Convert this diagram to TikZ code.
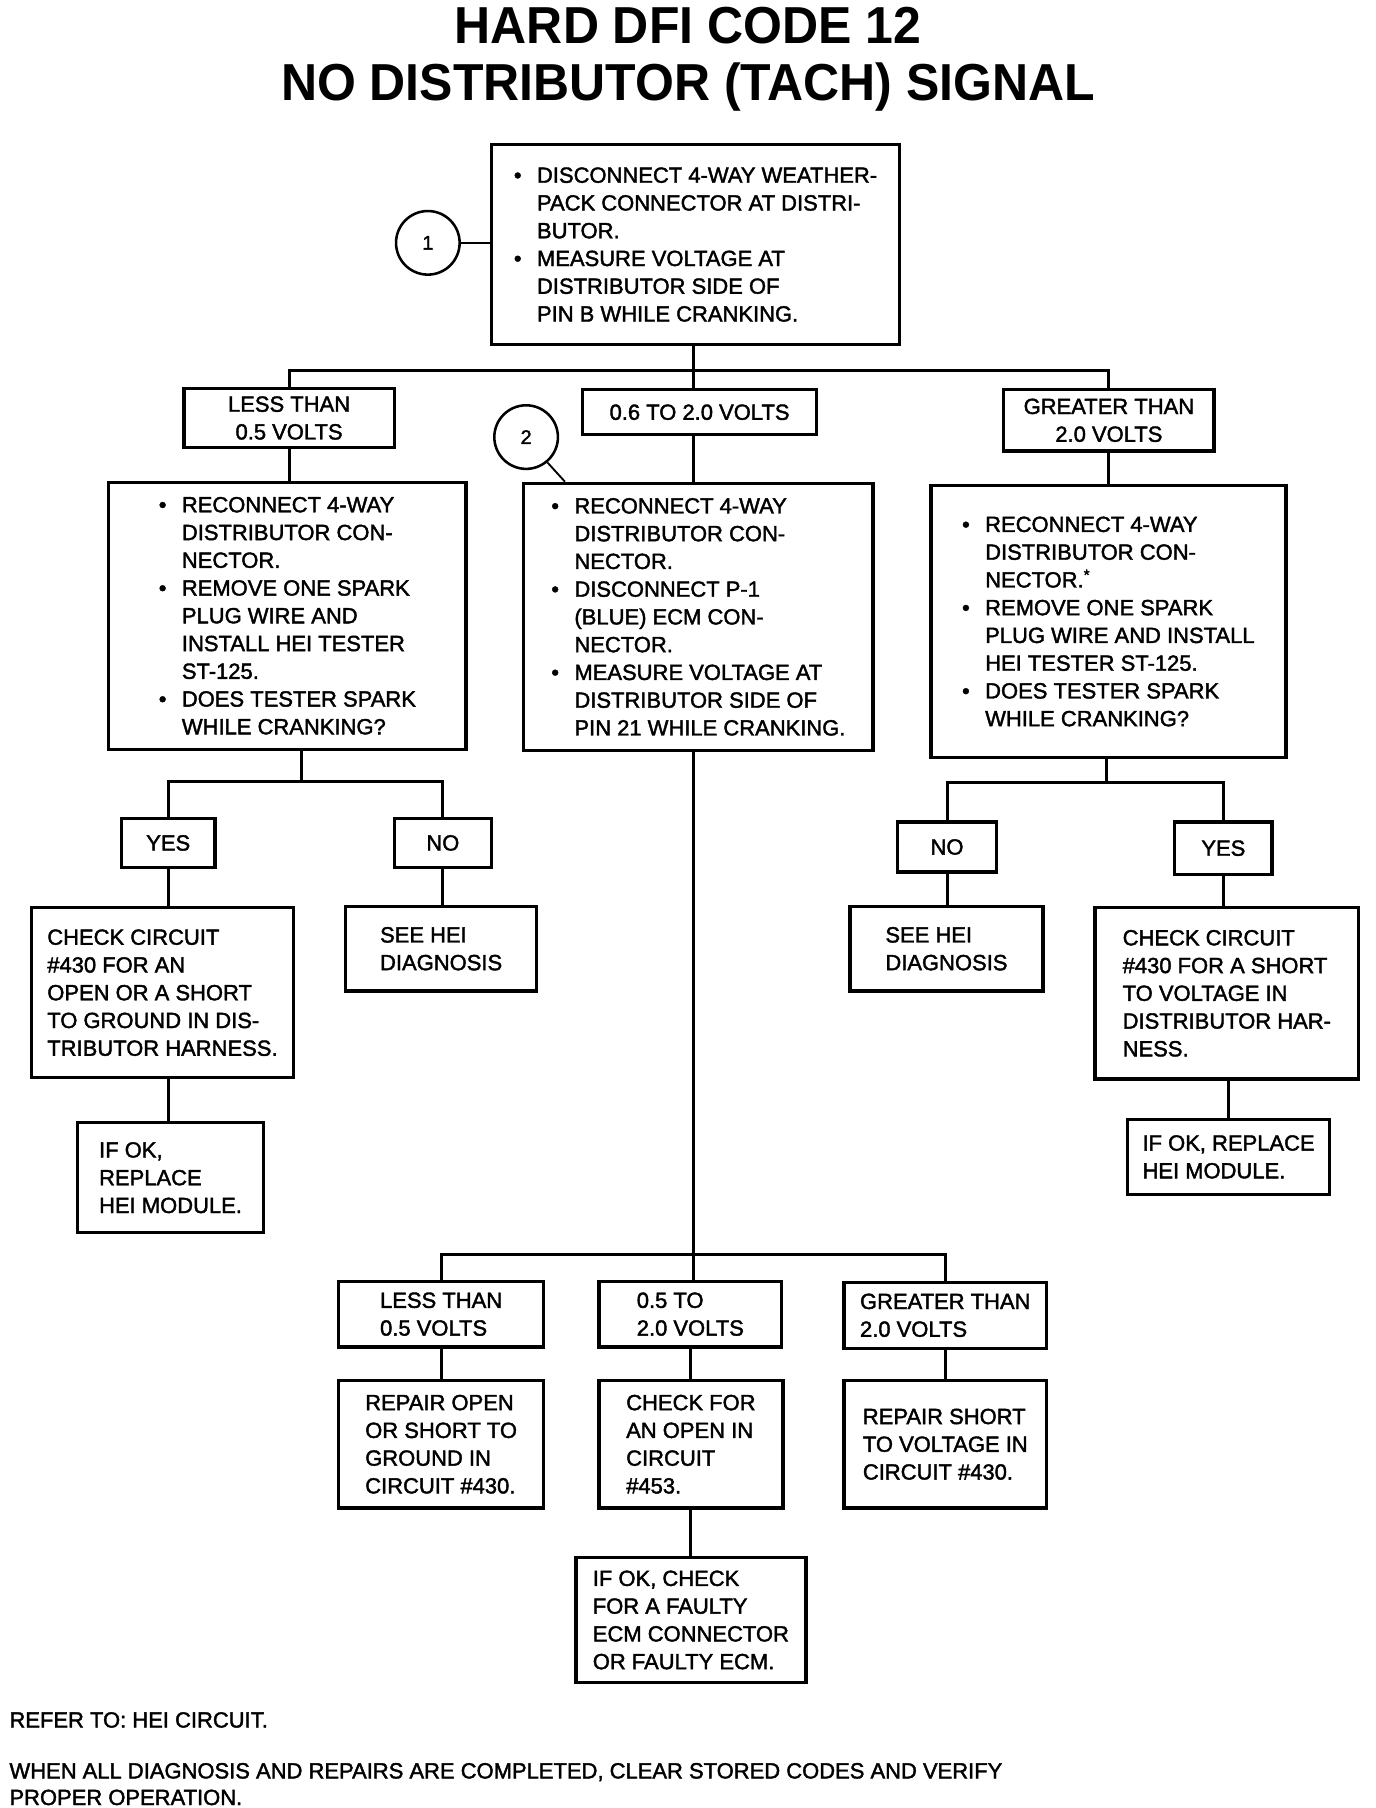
\documentclass[tikz,border=0pt]{standalone}
\usepackage{fontspec}
\newfontfamily\boxfont{Liberation Sans}[FakeBold=1.8]
\newfontfamily\titlefont{Liberation Sans Bold}[FakeStretch=0.96]
\newcommand{\bulletmark}{\makebox[20pt][l]{\textbullet}}
\newcommand{\bulletgap}{\hspace*{20pt}}
\tikzset{
  stepbox/.style={draw, rectangle, line width=2.9pt, align=left, inner sep=0pt,
    font=\boxfont\fontsize{19}{24}\selectfont},
  ansbox/.style={stepbox, align=center},
  link/.style={line width=2.6pt},
  tag/.style={draw, circle, line width=2.2pt, minimum size=55pt, inner sep=0pt,
    font=\boxfont\fontsize{17}{17}\selectfont},
  note/.style={anchor=base west, inner sep=0pt, font=\boxfont\fontsize{19}{24}\selectfont}
}
\begin{document}
\begin{tikzpicture}[x=1pt, y=-1pt]
        \useasboundingbox (0,0) rectangle (1190,1563.6);
        % Title
        \node[anchor=base, inner sep=0pt, font=\titlefont\fontsize{45}{48}\selectfont] (T1) at (595,38) {HARD DFI CODE 12};
        \node[anchor=base, inner sep=0pt, font=\titlefont\fontsize{45}{48}\selectfont] (T2) at (595,87) {NO DISTRIBUTOR (TACH) SIGNAL};

        % Steps
        \node[stepbox, minimum width=353, minimum height=173] (S) at (601.5,211.5) {\bulletmark DISCONNECT 4-WAY WEATHER-\\\bulletgap PACK CONNECTOR AT DISTRI-\\\bulletgap BUTOR.\\\bulletmark MEASURE VOLTAGE AT\\\bulletgap DISTRIBUTOR SIDE OF\\\bulletgap PIN B WHILE CRANKING.};
        \node[tag] (N1) at (370,210) {1};

        \node[ansbox, minimum width=182, minimum height=51] (L1) at (250,361.5) {LESS THAN\\0.5 VOLTS};
        \node[ansbox, minimum width=202, minimum height=39] (M1) at (605,356.5) {0.6 TO 2.0 VOLTS};
        \node[ansbox, minimum width=182, minimum height=53] (R1) at (959,363.5) {GREATER THAN\\2.0 VOLTS};

        \node[stepbox, minimum width=309, minimum height=231] (L2) at (248.5,532.5) {\bulletmark RECONNECT 4-WAY\\\bulletgap DISTRIBUTOR CON-\\\bulletgap NECTOR.\\\bulletmark REMOVE ONE SPARK\\\bulletgap PLUG WIRE AND\\\bulletgap INSTALL HEI TESTER\\\bulletgap ST-125.\\\bulletmark DOES TESTER SPARK\\\bulletgap WHILE CRANKING?};
        \node[stepbox, minimum width=302, minimum height=231] (M2) at (604,533.5) {\bulletmark RECONNECT 4-WAY\\\bulletgap DISTRIBUTOR CON-\\\bulletgap NECTOR.\\\bulletmark DISCONNECT P-1\\\bulletgap (BLUE) ECM CON-\\\bulletgap NECTOR.\\\bulletmark MEASURE VOLTAGE AT\\\bulletgap DISTRIBUTOR SIDE OF\\\bulletgap PIN 21 WHILE CRANKING.};
        \node[tag] (N2) at (455,378) {2};
        \node[stepbox, minimum width=307, minimum height=235] (R2) at (958.5,537.5) {\bulletmark RECONNECT 4-WAY\\\bulletgap DISTRIBUTOR CON-\\\bulletgap NECTOR.\textsuperscript{*}\\\bulletmark REMOVE ONE SPARK\\\bulletgap PLUG WIRE AND INSTALL\\\bulletgap HEI TESTER ST-125.\\\bulletmark DOES TESTER SPARK\\\bulletgap WHILE CRANKING?};

        % Left branch
        \node[ansbox, minimum width=81, minimum height=42] (YL) at (145.5,729) {YES};
        \node[ansbox, minimum width=84, minimum height=42] (NL) at (383,729) {NO};
        \node[stepbox, minimum width=227, minimum height=147] (L4) at (140.5,858.5) {CHECK CIRCUIT\\\#430 FOR AN\\OPEN OR A SHORT\\TO GROUND IN DIS-\\TRIBUTOR HARNESS.};
        \node[stepbox, minimum width=165, minimum height=73] (HL) at (381.5,820.5) {SEE HEI\\DIAGNOSIS};
        \node[stepbox, minimum width=161, minimum height=95] (L5) at (147.5,1018.5) {IF OK,\\REPLACE\\HEI MODULE.};

        % Right branch
        \node[ansbox, minimum width=86, minimum height=43] (NR) at (819,732.5) {NO};
        \node[ansbox, minimum width=84, minimum height=45] (YR) at (1058,733.5) {YES};
        \node[stepbox, minimum width=167, minimum height=73] (HR) at (818.5,820.5) {SEE HEI\\DIAGNOSIS};
        \node[stepbox, minimum width=228, minimum height=148] (R4) at (1061,859) {CHECK CIRCUIT\\\#430 FOR A SHORT\\TO VOLTAGE IN\\DISTRIBUTOR HAR-\\NESS.};
        \node[stepbox, minimum width=175, minimum height=65] (R5) at (1062.5,1000.5) {IF OK, REPLACE\\HEI MODULE.};

        % Middle branch
        \node[stepbox, minimum width=177, minimum height=57] (B1) at (381.5,1136.5) {LESS THAN\\0.5 VOLTS};
        \node[stepbox, minimum width=158, minimum height=57] (B2) at (597,1136.5) {0.5 TO\\2.0 VOLTS};
        \node[stepbox, minimum width=175, minimum height=57] (B3) at (817.5,1137.5) {GREATER THAN\\2.0 VOLTS};
        \node[stepbox, minimum width=177, minimum height=110] (C1) at (381.5,1249) {REPAIR OPEN\\OR SHORT TO\\GROUND IN\\CIRCUIT \#430.};
        \node[stepbox, minimum width=159, minimum height=110] (C2) at (597.5,1249) {CHECK FOR\\AN OPEN IN\\CIRCUIT\\\#453.};
        \node[stepbox, minimum width=175, minimum height=110] (C3) at (817.5,1249) {REPAIR SHORT\\TO VOLTAGE IN\\CIRCUIT \#430.};
        \node[stepbox, minimum width=199, minimum height=108] (D) at (597.5,1401) {IF OK, CHECK\\FOR A FAULTY\\ECM CONNECTOR\\OR FAULTY ECM.};

        % Notes
        \node[note] (F1) at (8,1494) {REFER TO: HEI CIRCUIT.};
        \node[note] (F2) at (8,1538) {WHEN ALL DIAGNOSIS AND REPAIRS ARE COMPLETED, CLEAR STORED CODES AND VERIFY};
        \node[note] (F3) at (8,1561) {PROPER OPERATION.};

        % Edges
        \coordinate (J1) at (600,320);
        \coordinate (J2) at (261,676);
        \coordinate (J3) at (957,677);
        \coordinate (J4) at (600,1085);
        \draw[link, line width=1.6pt] (N1.east) -- (N1.east -| S.west);
        \draw[link, line width=1.6pt] (N2.-50) -- ([xshift=37pt]M2.north west);
        \draw[link] (J1 |- S.south) -- (J1);
        \draw[link] (L1.north) |- (J1) -| (R1.north);
        \draw[link] (J1) -- (J1 |- M1.north);
        \draw[link] (L1.south) -- (L1.south |- L2.north);
        \draw[link] (J1 |- M1.south) -- (J1 |- M2.north);
        \draw[link] (R1.south) -- (R1.south |- R2.north);

        \draw[link] (J2 |- L2.south) -- (J2);
        \draw[link] (YL.north) |- (J2) -| (NL.north);
        \draw[link] (YL.south) -- (YL.south |- L4.north);
        \draw[link] (NL.south) -- (NL.south |- HL.north);
        \draw[link] (YL.south |- L4.south) -- (YL.south |- L5.north);

        \draw[link] (J3 |- R2.south) -- (J3);
        \draw[link] (NR.north) |- (J3) -| (YR.north);
        \draw[link] (NR.south) -- (NR.south |- HR.north);
        \draw[link] (YR.south) -- (YR.south |- R4.north);
        \draw[link] (R5.north |- R4.south) -- (R5.north);

        \draw[link] (J4 |- M2.south) -- (J4);
        \draw[link] (B1.north) |- (J4) -| (B3.north);
        \draw[link] (J4) -- (J4 |- B2.north);
        \draw[link] (B1.south) -- (B1.south |- C1.north);
        \draw[link] (B2.south) -- (B2.south |- C2.north);
        \draw[link] (B3.south) -- (B3.south |- C3.north);
        \draw[link] (C2.south) -- (C2.south |- D.north);
        \end{tikzpicture}
\end{document}
